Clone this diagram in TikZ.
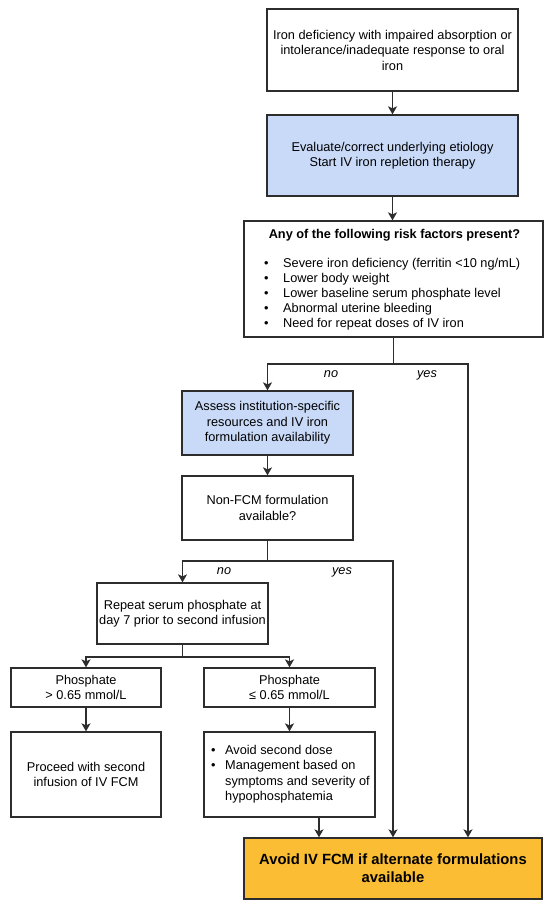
\documentclass[tikz,border=0pt]{standalone}
\usepackage{fontspec}
\setmainfont{Liberation Sans}
\usetikzlibrary{arrows.meta}
\definecolor{bluebox}{RGB}{201,218,248}
\definecolor{orangebox}{RGB}{251,189,52}
\definecolor{edgec}{RGB}{45,45,45}
\tikzset{
  box/.style={draw=edgec, line width=1.3pt, fill=white, align=center, inner sep=0pt,
    font=\fontsize{12.75}{15.5}\selectfont},
  bluefill/.style={fill=bluebox},
  txt/.style={inner sep=0pt, font=\fontsize{12.75}{15.2}\selectfont},
  conn/.style={draw=edgec, line width=1.4pt},
  arr/.style={conn, -{Stealth[length=8pt,width=9pt,inset=2pt]}},
  lbl/.style={inner sep=0pt, font=\fontsize{12.75}{15}\selectfont\itshape},
}
\begin{document}
\begin{tikzpicture}[x=1pt,y=-1pt]
\useasboundingbox (0,0) rectangle (550,909);

\node[box, minimum width=251pt, minimum height=82pt] (b1) at (392.5,50)
  {Iron deficiency with impaired absorption or\\intolerance/inadequate response to oral\\iron};
\node[box, bluefill, minimum width=251pt, minimum height=81pt] (b2) at (392.5,155.5)
  {Evaluate/correct underlying etiology\\Start IV iron repletion therapy};
\node[box, minimum width=299pt, minimum height=116pt] (b3) at (393.5,279) {};
\node[txt] (b3t) at (394.5,235) {\textbf{Any of the following risk factors present?}};
\node[txt, anchor=west] (b3l) at (264,294.5)
  {\begin{tabular}{@{}l@{\hspace{14.5pt}}l@{}}
   \textbullet & Severe iron deficiency (ferritin <10 ng/mL)\\
   \textbullet & Lower body weight\\
   \textbullet & Lower baseline serum phosphate level\\
   \textbullet & Abnormal uterine bleeding\\
   \textbullet & Need for repeat doses of IV iron
   \end{tabular}};

\node[box, bluefill, minimum width=171pt, minimum height=64pt] (b4) at (267.5,423)
  {Assess institution-specific\\resources and IV iron\\formulation availability};
\node[box, minimum width=171pt, minimum height=64pt] (b5) at (267.5,508)
  {Non-FCM formulation\\available?};
\node[box, minimum width=171pt, minimum height=61pt] (b6) at (182.5,613.5)
  {Repeat serum phosphate at\\day 7 prior to second infusion};
\node[box, minimum width=150pt, minimum height=39pt] (b7) at (86,687.5)
  {Phosphate\\> 0.65 mmol/L};
\node[box, minimum width=171pt, minimum height=39pt] (b8) at (289.5,687.5)
  {Phosphate\\≤ 0.65 mmol/L};
\node[box, minimum width=150pt, minimum height=85pt] (b9) at (86,774.5)
  {Proceed with second\\infusion of IV FCM};
\node[box, minimum width=171pt, minimum height=85pt] (b10) at (289.5,774.5) {};
\node[txt, anchor=west] (b10l) at (211,774.5)
  {\begin{tabular}{@{}l@{\hspace{9.5pt}}l@{}}
   \textbullet & Avoid second dose\\
   \textbullet & Management based on\\
   & symptoms and severity of\\
   & hypophosphatemia
   \end{tabular}};
\node[box, fill=orangebox, minimum width=298pt, minimum height=61pt,
  font=\fontsize{14.8}{18}\selectfont\bfseries] (fin) at (393,868.5)
  {Avoid IV FCM if alternate formulations\\available};

% connectors
\draw[arr] (b1) -- (b2);
\draw[arr] (b2.south) -- (b2.south |- b3.north);

\coordinate (noA) at (267.5,364);
\coordinate (yesA) at (468,364);
\draw[arr] (b3.south) |- (noA) -- (b4.north);
\draw[arr] (b3.south) |- (yesA) -- (yesA |- fin.north);
\node[lbl] (no1) at (331,374) {no};
\node[lbl] (yes1) at (427,375) {yes};

\draw[arr] (b4) -- (b5);

\coordinate (noB) at (182.5,561);
\coordinate (yesB) at (393,561);
\draw[arr] (b5.south) |- (noB) -- (b6.north);
\draw[arr] (b5.south) |- (yesB) -- (yesB |- fin.north);
\node[lbl] (no2) at (224,571) {no};
\node[lbl] (yes2) at (342,572) {yes};

\coordinate (brL) at (86,657);
\coordinate (brR) at (289.5,657);
\draw[arr] (b6.south) |- (brL) -- (b7.north);
\draw[arr] (b6.south) |- (brR) -- (b8.north);

\draw[arr] (b7) -- (b9);
\draw[arr] (b8) -- (b10);
\draw[arr] ([xshift=29.5pt]b10.south) -- ([xshift=29.5pt]b10.south |- fin.north);
\end{tikzpicture}
\end{document}
